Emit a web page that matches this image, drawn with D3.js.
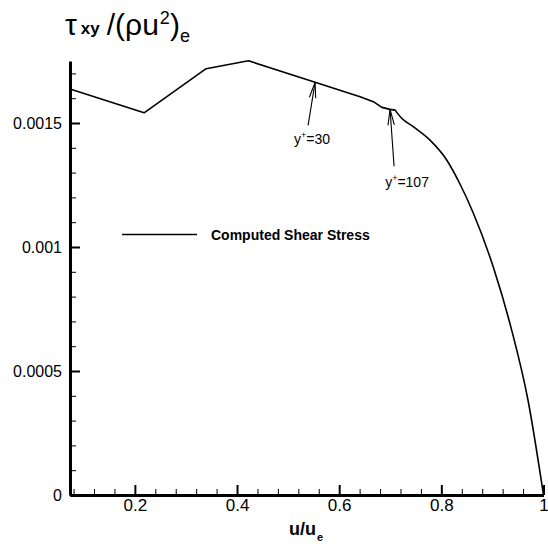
<!DOCTYPE html>
<html>
<head>
<meta charset="utf-8">
<script src="https://cdn.jsdelivr.net/npm/d3@7"></script>
<style>
  body { margin: 0; background: #fff; }
  text { font-family: "Liberation Sans", Arial, sans-serif; fill: #000; }
</style>
</head>
<body>
<div id="wrapper"></div>
<script>
// data
const uValues = [0.073, 0.218, 0.3395, 0.4223, 0.5528, 0.6409, 0.6669, 0.6834, 0.6996, 0.7094,
  0.7224, 0.7451, 0.7778, 0.8105, 0.8365, 0.8625, 0.9017, 0.9377, 0.9696, 1.0]
const tauValues = [0.001637, 0.001541, 0.001719, 0.001751, 0.001664, 0.001606, 0.001586, 0.001563, 0.001555, 0.001552,
  0.001519, 0.001485, 0.001431, 0.001351, 0.001254, 0.001137, 0.000919, 0.000665, 0.000383, 0]

const xMajorTicks = [0.2, 0.4, 0.6, 0.8, 1]
const xMinorTicks = [0.08, 0.12, 0.16, 0.24, 0.28, 0.32, 0.36, 0.44, 0.48, 0.52, 0.56,
  0.64, 0.68, 0.72, 0.76, 0.84, 0.88, 0.92, 0.96]
const yMajorTicks = [0, 0.0005, 0.001, 0.0015]
const yMinorTicks = [0.0001, 0.0002, 0.0003, 0.0004, 0.0006, 0.0007, 0.0008, 0.0009,
  0.0011, 0.0012, 0.0013, 0.0014, 0.0016, 0.0017]

const annotations = [
  { u: 0.5528, tau: 0.001664, label: "30" },
  { u: 0.6996, tau: 0.001555, label: "107" },
]

const dataset = uValues.map((u, i) => ({ u: u, tau: tauValues[i] }))
// straight segments up to the kink near y+=107, smooth fall-off after it
const kink = 9

const dimensions = {
  width: 548,
  height: 544,
  margin: { top: 61, right: 4.5, bottom: 49, left: 70 },
}
dimensions.boundedWidth = dimensions.width - dimensions.margin.left - dimensions.margin.right
dimensions.boundedHeight = dimensions.height - dimensions.margin.top - dimensions.margin.bottom

const wrapper = d3.select("#wrapper")
  .append("svg")
  .attr("width", dimensions.width)
  .attr("height", dimensions.height)

const bounds = wrapper.append("g")
  .attr("transform", `translate(${dimensions.margin.left}, ${dimensions.margin.top})`)

const xScale = d3.scaleLinear()
  .domain([0.073, 1])
  .range([0, dimensions.boundedWidth])

const yScale = d3.scaleLinear()
  .domain([0, 0.00175])
  .range([dimensions.boundedHeight, 0])

const fmt = d => d === 0 ? "0" : String(+d.toFixed(4))

// minor ticks
bounds.append("g")
  .attr("transform", `translate(0, ${dimensions.boundedHeight})`)
  .call(d3.axisBottom(xScale).tickValues(xMinorTicks).tickSize(-6).tickFormat(""))
  .call(g => g.select(".domain").remove())
  .selectAll("line").attr("stroke-width", 1)

bounds.append("g")
  .call(d3.axisLeft(yScale).tickValues(yMinorTicks).tickSize(-6).tickFormat(""))
  .call(g => g.select(".domain").remove())
  .selectAll("line").attr("stroke-width", 1)

// major ticks
const xAxis = bounds.append("g")
  .attr("transform", `translate(0, ${dimensions.boundedHeight})`)
  .call(d3.axisBottom(xScale).tickValues(xMajorTicks).tickSize(-10).tickSizeOuter(0).tickPadding(4).tickFormat(fmt))
xAxis.select(".domain").attr("stroke-width", 3)
xAxis.selectAll(".tick line").attr("stroke-width", 2)
xAxis.selectAll("text").attr("font-size", 17).style("font-family", "Liberation Sans, Arial, sans-serif")

const yAxis = bounds.append("g")
  .call(d3.axisLeft(yScale).tickValues(yMajorTicks).tickSize(-10).tickSizeOuter(0).tickPadding(8).tickFormat(fmt))
yAxis.select(".domain").attr("stroke-width", 3)
yAxis.selectAll(".tick line").attr("stroke-width", 2)
yAxis.selectAll("text").attr("font-size", 16).style("font-family", "Liberation Sans, Arial, sans-serif")

// curve
const straight = d3.line()
  .x(d => xScale(d.u))
  .y(d => yScale(d.tau))
const smooth = d3.line()
  .x(d => xScale(d.u))
  .y(d => yScale(d.tau))
  .curve(d3.curveMonotoneX)

bounds.append("path")
  .attr("d", straight(dataset.slice(0, kink + 1)) + smooth(dataset.slice(kink)).replace(/^M[^A-Za-z]*/, ""))
  .attr("fill", "none")
  .attr("stroke", "#000")
  .attr("stroke-width", 1.6)
  .attr("stroke-linejoin", "round")

// annotation arrows
const offsets = [
  { dx: -7, dy: 43, tx: -3, ty: 62 },
  { dx: 4, dy: 57, tx: 17, ty: 78 },
]
annotations.forEach((a, i) => {
  const tipX = xScale(a.u)
  const tipY = yScale(a.tau)
  const o = offsets[i]
  const tailX = tipX + o.dx
  const tailY = tipY + o.dy
  const ang = Math.atan2(tailY - tipY, tailX - tipX)
  const head = 16
  const spread = 0.2
  const g = bounds.append("g").attr("stroke", "#000").attr("stroke-width", 1.1).attr("fill", "none")
  g.append("line").attr("x1", tailX).attr("y1", tailY).attr("x2", tipX).attr("y2", tipY)
  g.append("path").attr("d",
    `M${tipX + head * Math.cos(ang - spread)},${tipY + head * Math.sin(ang - spread)}` +
    `L${tipX},${tipY}` +
    `L${tipX + head * Math.cos(ang + spread)},${tipY + head * Math.sin(ang + spread)}`)
  const t = bounds.append("text")
    .attr("x", tipX + o.tx)
    .attr("y", tipY + o.ty)
    .attr("text-anchor", "middle")
    .attr("font-size", 14)
  t.append("tspan").text("y")
  t.append("tspan").attr("font-size", 9).attr("dy", -6).text("+")
  t.append("tspan").attr("dy", 6).text("=" + a.label)
})

// legend
const legend = wrapper.append("g").attr("transform", "translate(122, 234.5)")
legend.append("line")
  .attr("x1", 0).attr("x2", 75)
  .attr("stroke", "#000").attr("stroke-width", 1.4)
legend.append("text")
  .attr("x", 89).attr("y", 5)
  .attr("font-size", 14)
  .attr("font-weight", "bold")
  .text("Computed Shear Stress")

// y title
const yTitle = wrapper.append("text").attr("x", 65).attr("y", 35).attr("font-size", 30)
yTitle.append("tspan").text("τ")
yTitle.append("tspan").attr("dx", 4).attr("dy", -1).attr("font-size", 17).attr("font-weight", "bold").text("xy")
yTitle.append("tspan").attr("dx", 7).attr("dy", 1).text("/(ρu")
yTitle.append("tspan").attr("dx", 1).attr("dy", -11).attr("font-size", 18).text("2")
yTitle.append("tspan").attr("dy", 11).text(")")
yTitle.append("tspan").attr("dy", 7).attr("font-size", 18).text("e")

// x title
const xTitle = wrapper.append("text").attr("y", 535).attr("font-size", 18).attr("font-weight", "bold")
xTitle.append("tspan").attr("x", 289).text("u/u")
xTitle.append("tspan").attr("x", 317).attr("y", 541).attr("font-size", 11).text("e")
</script>
</body>
</html>
